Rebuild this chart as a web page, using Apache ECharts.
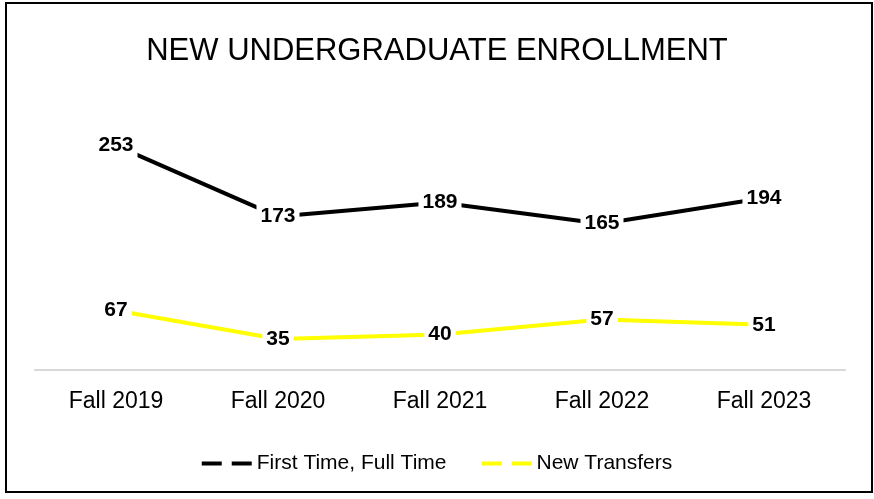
<!DOCTYPE html>
<html>
<head>
<meta charset="utf-8">
<script src="https://cdn.jsdelivr.net/npm/echarts@6/dist/echarts.min.js"></script>
<style>
  body { margin: 0; background: #fff; }
  #wrap { position: relative; width: 874px; height: 499px; }
  #frame {
    position: absolute; left: 5px; top: 2px; width: 864px; height: 487px;
    border: 2px solid #000; pointer-events: none;
  }
  #chart { position: absolute; left: 0; top: 0; width: 874px; height: 499px; }
</style>
</head>
<body>
<div id="wrap">
  <div id="chart"></div>
  <div id="frame"></div>
</div>
<script>
// new undergraduate enrollment by fall term
const terms = ["Fall 2019", "Fall 2020", "Fall 2021", "Fall 2022", "Fall 2023"];
const firstTimeFullTime = [253, 173, 189, 165, 194];
const newTransfers = [67, 35, 40, 57, 51];

const font = '"Liberation Sans", Arial, sans-serif';
const dashIcon = "path://M0,0h20v4h-20z M30,0h20v4h-20z";

const pointLabel = {
  show: true,
  position: "inside",
  color: "#000",
  fontFamily: font,
  fontWeight: "bold",
  fontSize: 21,
  backgroundColor: "#fff",
  padding: [2, 4],
};

const chart = echarts.init(document.getElementById("chart"));
chart.setOption({
  animation: false,
  title: {
    text: "NEW UNDERGRADUATE ENROLLMENT",
    left: "center",
    top: 30,
    textStyle: {
      fontFamily: font,
      fontWeight: "normal",
      fontSize: 31,
      lineHeight: 33,
      color: "#000",
    },
  },
  legend: {
    left: "center",
    top: 448,
    itemWidth: 50,
    itemHeight: 5,
    itemGap: 35,
    textStyle: { fontFamily: font, fontSize: 21, color: "#000" },
    data: [
      { name: "First Time, Full Time", icon: dashIcon },
      { name: "New Transfers", icon: dashIcon },
    ],
  },
  grid: { left: 35, right: 29, top: 104, bottom: 129 },
  xAxis: {
    type: "category",
    data: terms,
    axisLine: { lineStyle: { color: "#d9d9d9", width: 2 } },
    axisTick: { show: false },
    axisLabel: {
      fontFamily: font,
      fontSize: 23,
      color: "#000",
      margin: 20,
    },
  },
  yAxis: {
    type: "value",
    min: 0,
    max: 300,
    show: false,
    splitLine: { show: false },
  },
  series: [
    {
      name: "First Time, Full Time",
      type: "line",
      data: firstTimeFullTime,
      symbol: "circle",
      symbolSize: 0,
      showSymbol: true,
      lineStyle: { color: "#000", width: 4 },
      itemStyle: { color: "#000" },
      label: pointLabel,
    },
    {
      name: "New Transfers",
      type: "line",
      data: newTransfers,
      symbol: "circle",
      symbolSize: 0,
      showSymbol: true,
      lineStyle: { color: "#ffff00", width: 4 },
      itemStyle: { color: "#ffff00" },
      label: pointLabel,
    },
  ],
});
</script>
</body>
</html>
